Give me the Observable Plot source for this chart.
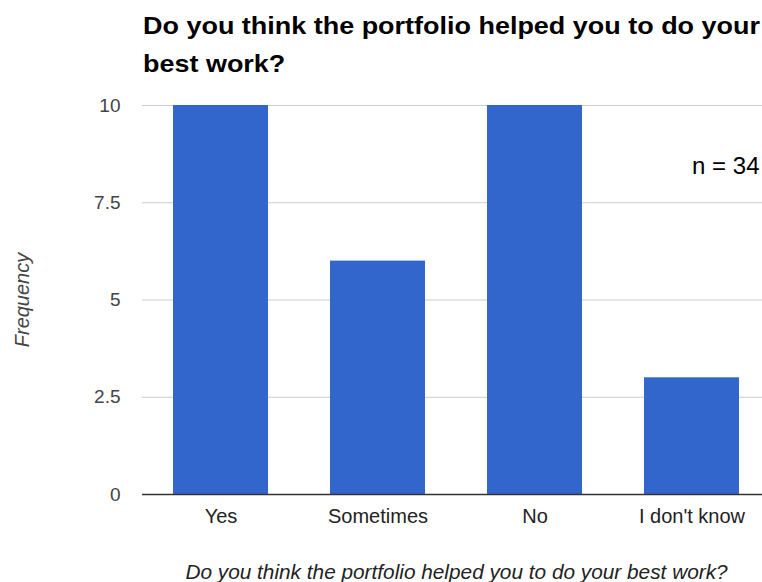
<!DOCTYPE html>
<html>
<head>
<meta charset="utf-8">
<script src="https://cdn.jsdelivr.net/npm/d3@7"></script>
<script src="https://cdn.jsdelivr.net/npm/@observablehq/plot@0.6"></script>
<style>
  html, body { margin: 0; padding: 0; background: #fff; overflow: hidden; }
  #wrap { position: relative; width: 762px; height: 582px; overflow: hidden; font-family: "Liberation Sans", Arial, sans-serif; }
  #title { position: absolute; left: 143px; top: 7px; font-size: 24px; font-weight: bold; line-height: 38px; color: #000; white-space: nowrap; transform-origin: 0 0; }
  #chart { position: absolute; left: 0; top: 0; }
  #chart svg { max-width: none !important; }
  g[aria-label="y-axis tick label"] text { font-size: 19px; }
  g[aria-label="x-axis tick label"] text { font-size: 20px; }
  g[aria-label="y-axis label"] text { font-style: italic; font-size: 20px; }
  g[aria-label="x-axis label"] text { font-style: italic; font-size: 20.8px; }
</style>
</head>
<body>
<div id="wrap">
  <div id="chart"></div>
  <div id="title">Do you think the portfolio helped you to do your<br>best work?</div>
</div>
<script>
const categories = ["Yes", "Sometimes", "No", "I don't know"];
const frequencies = [10, 6, 10, 3];
const yTicks = [0, 2.5, 5, 7.5, 10];
const titleText = "Do you think the portfolio helped you to do your best work?";
const yLabel = "Frequency";
const note = "n = 34";

const data = categories.map((c, i) => ({category: c, value: frequencies[i]}));

const chart = Plot.plot({
  width: 770,
  height: 582,
  marginLeft: 142,
  marginRight: 0,
  marginTop: 105,
  marginBottom: 88,
  style: {fontFamily: '"Liberation Sans", Arial, sans-serif', background: "#fff", overflow: "hidden", maxWidth: "none"},
  x: {domain: categories, paddingInner: 0.395, paddingOuter: 0.1975, align: 0.5},
  y: {domain: [0, 10]},
  marks: [
    Plot.gridY(yTicks, {stroke: "#cccccc", strokeOpacity: 1, strokeWidth: 1}),
    Plot.barY(data, {x: "category", y: "value", fill: "#3366cc"}),
    Plot.ruleY([0], {stroke: "#333333", strokeWidth: 1.5}),
    Plot.axisY(yTicks, {
      tickSize: 0, tickPadding: 22, tickFormat: d => String(d),
      fontSize: 19, color: "#444444",
      label: yLabel, labelAnchor: "center", labelArrow: "none", labelOffset: 128
    }),
    Plot.axisX({
      tickSize: 0, tickPadding: 14, fontSize: 20, color: "#222222",
      label: titleText, labelAnchor: "center", labelArrow: "none", labelOffset: 84
    }),
    Plot.text([note], {frameAnchor: "top-right", text: d => d, dx: -11, dy: 51, fontSize: 24, fill: "#000", textAnchor: "end"})
  ]
});
document.getElementById("chart").appendChild(chart);

// stretch the title horizontally to the reference's wider rendering
const t = document.getElementById("title");
const w = t.getBoundingClientRect().width;
const target = 617;
t.style.transform = `scaleX(${target / w})`;
</script>
</body>
</html>
